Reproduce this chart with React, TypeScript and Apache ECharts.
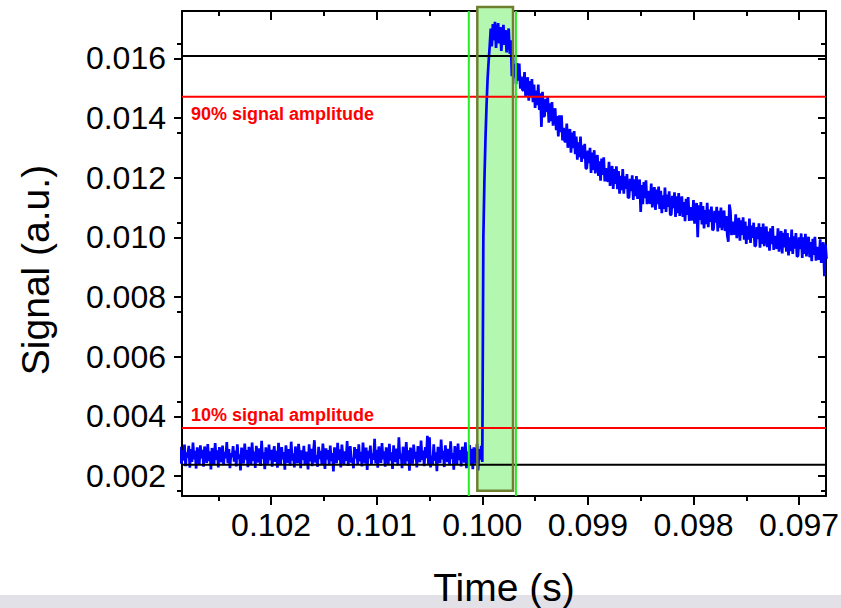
import React, { useEffect, useRef } from "react";
import * as echarts from "echarts";

const xTickValues = [0.097, 0.098, 0.099, 0.1, 0.101, 0.102];
const yTickValues = [0.002, 0.004, 0.006, 0.008, 0.01, 0.012, 0.014, 0.016];
const xRange = [0.096745, 0.102844];
const yRange = [0.00133, 0.017585];

const sampleStart = 0.10286;
const sampleStep = 0.00001;
const signalScale = 1e-5;

const baselineSignal = [
  298, 241, 287, 252, 305, 233, 279, 262, 301, 228,
  290, 247, 312, 256, 284, 225, 296, 268, 240, 303,
  259, 288, 231, 299, 276, 244, 307, 250, 283, 222,
  294, 265, 238, 310, 254, 286, 229, 297, 271, 246,
  302, 236, 281, 259, 314, 243, 290, 226, 277, 263,
  300, 248, 285, 232, 306, 257, 273, 219, 295, 268,
  242, 309, 255, 287, 230, 298, 264, 239, 312, 251,
  282, 227, 301, 270, 245, 293, 234, 318, 258, 279,
  223, 296, 266, 241, 305, 253, 288, 231, 274, 300,
  247, 284, 228, 311, 262, 238, 297, 256, 280, 221,
  303, 269, 244, 290, 235, 315, 252, 276, 229, 299,
  260, 243, 308, 272, 226, 286, 254, 301, 237, 281,
  264, 222, 306, 249, 291, 233, 278, 320, 245, 270,
  231, 298, 257, 284, 240, 309, 266, 224, 293, 255,
  287, 236, 302, 250, 277, 215, 296, 262, 243, 311,
  253, 289, 229, 305, 268, 239, 283, 251, 317, 234,
  274, 300, 245, 262, 226, 297, 258, 290, 238, 306,
  249, 281, 232, 312, 265, 243, 295, 220, 284, 259,
  302, 237, 276, 254, 325, 242, 288, 228, 299, 267,
  244, 310, 256, 283, 231, 296, 270, 239, 308, 252,
  279, 224, 303, 261, 247, 292, 235, 330, 258, 275,
  226, 298, 266, 240, 314, 250, 286, 218, 295, 263,
  241, 305, 257, 281, 229, 300, 272, 246, 319, 254,
  285, 233, 297, 260, 335, 240, 330, 229, 268, 238,
  306, 251, 279, 216, 298, 262, 244, 322, 256, 284,
  230, 303, 269, 247, 291, 236, 316, 258, 277, 221,
  300, 264, 240, 309, 253, 287, 232, 298, 270, 245,
  313, 226, 282, 259, 304, 238, 291, 223, 296, 266,
  242, 308, 219, 290, 255, 301, 247,
];

const riseSignal = [1000, 1190, 1330, 1440, 1530, 1590, 1640];

const peakSignal = [
  1700, 1640, 1715, 1660, 1722, 1635, 1690, 1718, 1650, 1705,
  1625, 1680, 1712, 1645, 1695, 1620, 1670, 1700, 1615, 1660,
  1540,
];

const decaySignal = [
  1608, 1535, 1581, 1513, 1584, 1525, 1582, 1498, 1539, 1494,
  1492, 1554, 1472, 1522, 1536, 1458, 1524, 1473, 1530, 1453,
  1512, 1434, 1492, 1443, 1512, 1427, 1483, 1370, 1488, 1406,
  1406, 1464, 1420, 1470, 1384, 1449, 1389, 1453, 1374, 1419,
  1432, 1359, 1406, 1338, 1409, 1352, 1409, 1325, 1367, 1322,
  1320, 1381, 1300, 1349, 1363, 1284, 1351, 1299, 1356, 1279,
  1338, 1260, 1318, 1269, 1338, 1253, 1308, 1264, 1313, 1231,
  1231, 1291, 1249, 1300, 1216, 1284, 1226, 1292, 1214, 1261,
  1276, 1206, 1255, 1190, 1264, 1209, 1268, 1187, 1232, 1189,
  1190, 1253, 1172, 1223, 1239, 1162, 1229, 1179, 1238, 1161,
  1222, 1146, 1206, 1158, 1229, 1146, 1204, 1162, 1212, 1132,
  1134, 1196, 1155, 1208, 1125, 1194, 1138, 1205, 1129, 1177,
  1194, 1085, 1175, 1111, 1185, 1131, 1191, 1111, 1156, 1115,
  1116, 1180, 1100, 1152, 1168, 1092, 1160, 1111, 1170, 1095,
  1156, 1081, 1141, 1095, 1167, 1085, 1143, 1102, 1154, 1074,
  1077, 1139, 1098, 1151, 1068, 1137, 1081, 1148, 1072, 1120,
  1137, 1068, 1118, 1054, 1129, 1075, 1135, 1055, 1101, 1059,
  1061, 1125, 1046, 1098, 1115, 1000, 1107, 1058, 1118, 1043,
  1105, 1030, 1091, 1044, 1116, 1034, 1093, 1052, 1103, 1024,
  1027, 1089, 1049, 1102, 1020, 1089, 1032, 1100, 1024, 1073,
  1090, 1021, 1071, 1007, 985, 1110, 1088, 1007, 1053, 1011,
  1013, 1077, 997, 1049, 1065, 989, 1057, 1008, 1067, 992,
  1053, 978, 1038, 992, 1063, 981, 1039, 998, 1049, 970,
  972, 1034, 994, 1047, 965, 1034, 978, 1046, 970, 1019,
  1036, 967, 1019, 955, 1030, 977, 1038, 958, 1005, 964,
  966, 1030, 952, 1004, 1021, 946, 1015, 966, 1027, 952,
  1014, 939, 1000, 954, 1026, 944, 1003, 962, 1014, 935,
  938, 1000, 960, 1013, 931, 1000, 944, 1012, 936, 985,
  1002, 933, 984, 920, 995, 941, 1002, 922, 968, 927,
  929, 993, 914, 966, 983, 870, 976, 928,
];

const blackLevels = [0.016077, 0.002379];
const redLevels = [0.014713, 0.003608];
const greenTimes = [0.1001279, 0.0996818];
const windowTimes = [0.1000474, 0.0997092];
const windowSignal = [0.001507, 0.01772];
const levelLabels = ["90% signal amplitude", "10% signal amplitude"];
const xTitle = "Time (s)";
const yTitle = "Signal (a.u.)";

export default function App() {
  const ref = useRef<HTMLDivElement>(null);

  useEffect(() => {
    if (!ref.current) return;
    const chart = echarts.init(ref.current, null, { renderer: "svg" });
    const font = "'Liberation Sans', Arial, Helvetica, sans-serif";
    const fmt = (v: number) => v.toFixed(3);
    const signal = [...baselineSignal, ...riseSignal, ...peakSignal, ...decaySignal].map((v, i) => [
      sampleStart - i * sampleStep,
      v * signalScale,
    ]);

    const axisLineStyle = { color: "#000", width: 2 };
    const mkX = (main: boolean) => ({
      type: "value",
      gridIndex: 0,
      position: main ? "bottom" : "top",
      inverse: true,
      min: xRange[0],
      max: xRange[1],
      axisLine: { show: true, onZero: false, lineStyle: axisLineStyle },
      axisTick: { show: true, inside: !main, length: 9, customValues: xTickValues, lineStyle: axisLineStyle },
      minorTick: { show: true, splitNumber: 2, length: 5, lineStyle: axisLineStyle },
      axisLabel: {
        show: main,
        customValues: xTickValues,
        formatter: fmt,
        fontSize: 32,
        color: "#000",
        fontFamily: font,
        margin: 13,
      },
      splitLine: { show: false },
      minorSplitLine: { show: false },
    });
    const mkY = (main: boolean) => ({
      type: "value",
      gridIndex: 0,
      position: main ? "left" : "right",
      min: yRange[0],
      max: yRange[1],
      axisLine: { show: true, onZero: false, lineStyle: axisLineStyle },
      axisTick: { show: true, inside: !main, length: 8, customValues: yTickValues, lineStyle: axisLineStyle },
      minorTick: { show: true, splitNumber: 2, length: 5, lineStyle: axisLineStyle },
      axisLabel: {
        show: main,
        customValues: yTickValues,
        formatter: fmt,
        fontSize: 32,
        color: "#000",
        fontFamily: font,
        margin: 16,
      },
      splitLine: { show: false },
      minorSplitLine: { show: false },
    });

    const refLine = (data: number[][], color: string) => ({
      type: "line",
      xAxisIndex: 0,
      yAxisIndex: 0,
      data,
      symbol: "none",
      showSymbol: false,
      silent: true,
      clip: false,
      z: 5,
      lineStyle: { color, width: 2, type: "solid" },
    });

    chart.setOption({
      animation: false,
      backgroundColor: "#ffffff",
      grid: { left: 182, right: 15, top: 11, bottom: 112, containLabel: false, outerBoundsMode: "none" },
      xAxis: [mkX(true), mkX(false)],
      yAxis: [mkY(true), mkY(false)],
      series: [
        {
          type: "line",
          xAxisIndex: 0,
          yAxisIndex: 0,
          data: signal,
          symbol: "none",
          showSymbol: false,
          clip: true,
          z: 3,
          lineStyle: { color: "#0000ff", width: 2.7 },
        },
        ...blackLevels.map((v) => refLine([[xRange[0], v], [xRange[1], v]], "#000000")),
        ...redLevels.map((v) => refLine([[xRange[0], v], [xRange[1], v]], "#ff0000")),
        ...greenTimes.map((t) => refLine([[t, yRange[0]], [t, yRange[1]]], "#22ee22")),
      ],
    });

    const p = (x: number, y: number) => chart.convertToPixel({ seriesIndex: 0 }, [x, y]) as number[];
    const a = p(windowTimes[0], windowSignal[1]);
    const b = p(windowTimes[1], windowSignal[0]);
    const rectShape = {
      x: Math.min(a[0], b[0]),
      y: Math.min(a[1], b[1]),
      width: Math.abs(b[0] - a[0]),
      height: Math.abs(b[1] - a[1]),
    };
    const leftX = p(xRange[1], yRange[0])[0];
    const hiY = p(xRange[1], redLevels[0])[1];
    const loY = p(xRange[1], redLevels[1])[1];
    const labelStyle = (text: string) => ({
      text,
      fontSize: 18,
      fontWeight: "bold",
      fontFamily: font,
      fill: "#ff0000",
      align: "left",
      verticalAlign: "middle",
      textAlign: "left",
      textVerticalAlign: "middle",
    });

    chart.setOption({
      graphic: [
        { type: "rect", silent: true, z: 0, shape: { x: 0, y: 595, width: 841, height: 13 }, style: { fill: "#e3e1e8" } },
        { type: "rect", silent: true, z: 1, shape: rectShape, style: { fill: "#b4f7b0", stroke: "none" } },
        { type: "rect", silent: true, z: 10, shape: rectShape, style: { fill: "none", stroke: "#6f7f30", lineWidth: 2.5 } },
        { type: "text", silent: true, z: 10, x: leftX + 9, y: hiY + 17.4, style: labelStyle(levelLabels[0]) },
        { type: "text", silent: true, z: 10, x: leftX + 9, y: loY - 13.1, style: labelStyle(levelLabels[1]) },
        {
          type: "text",
          silent: true,
          z: 10,
          x: 504,
          y: 587,
          style: {
            text: xTitle,
            fontSize: 39,
            fontFamily: font,
            fill: "#000",
            align: "center",
            verticalAlign: "middle",
            textAlign: "center",
            textVerticalAlign: "middle",
          },
        },
        {
          type: "text",
          silent: true,
          z: 10,
          x: 35,
          y: 270,
          rotation: Math.PI / 2,
          style: {
            text: yTitle,
            fontSize: 39,
            fontFamily: font,
            fill: "#000",
            align: "center",
            verticalAlign: "middle",
            textAlign: "center",
            textVerticalAlign: "middle",
          },
        },
      ],
    });

    return () => chart.dispose();
  }, []);

  return <div ref={ref} style={{ position: "absolute", left: 0, top: 0, width: 841, height: 608 }} />;
}
